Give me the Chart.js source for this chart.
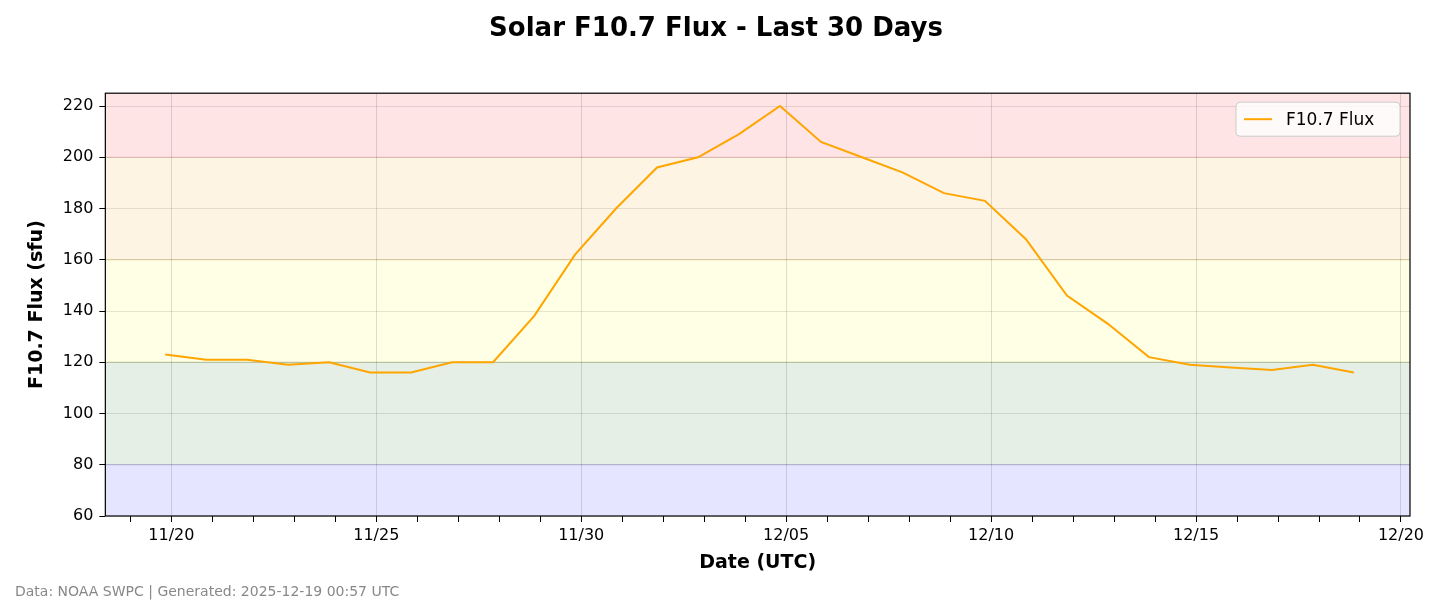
<!DOCTYPE html>
<html><head><meta charset="utf-8">
<script src="https://cdn.jsdelivr.net/npm/chart.js@4"></script>
<style>html,body{margin:0;padding:0;background:#fff}#w{width:1440px;height:616px;position:relative}</style>
</head><body><div id="w"><canvas id="c" width="1440" height="616"></canvas></div>
<script>
const startDate = Date.UTC(2025,10,20);
const dayOffsets = [-0.15,0.85,1.85,2.85,3.85,4.85,5.85,6.85,7.85,8.85,9.85,10.85,11.85,12.85,13.85,14.85,15.85,16.85,17.85,18.85,19.85,20.85,21.85,22.85,23.85,24.85,25.85,26.85,27.85,28.85];
const fluxValues = [123,121,121,119,120,116,116,120,120,138,162,180,196,200,209,220,206,200,194,186,183,168,146,135,122,119,118,117,119,116];
const bands = [[60,80,'#e5e5ff'],[80,120,'#e5efe5'],[120,160,'#ffffe5'],[160,200,'#fdf4e3'],[200,225,'#ffe4e6']];
const bandLines = [[80,'#b8b8e0'],[120,'#c0cca0'],[160,'#ecd8a8'],[200,'#f0c0b8']];
const fmt = v => { const d=new Date(startDate+v*86400000); return String(d.getUTCMonth()+1).padStart(2,'0')+'/'+String(d.getUTCDate()).padStart(2,'0'); };

const bg = {id:'bg', beforeDraw(ch){const {ctx,chartArea:a,scales:{y}}=ch;ctx.save();
  for(const [lo,hi,c] of bands){ctx.fillStyle=c;const t=y.getPixelForValue(hi),b=y.getPixelForValue(lo);ctx.fillRect(a.left,t,a.right-a.left,b-t);}
  for(const [v,c] of bandLines){const p=y.getPixelForValue(v);ctx.strokeStyle=c;ctx.lineWidth=1.2;ctx.beginPath();ctx.moveTo(a.left,p);ctx.lineTo(a.right,p);ctx.stroke();}
  ctx.restore();},
 afterDraw(ch){const {ctx,chartArea:a}=ch;ctx.save();
  ctx.strokeStyle='#000';ctx.lineWidth=1.2;ctx.strokeRect(a.left,a.top,a.right-a.left,a.bottom-a.top);
  const lx=a.right-174,ly=a.top+9,w=164,h=34;ctx.fillStyle='rgba(255,255,255,0.8)';ctx.strokeStyle='#ccc';ctx.lineWidth=1;
  ctx.beginPath();ctx.roundRect(lx,ly,w,h,4);ctx.fill();ctx.stroke();
  ctx.strokeStyle='orange';ctx.lineWidth=2;ctx.beginPath();ctx.moveTo(lx+8,ly+17);ctx.lineTo(lx+36,ly+17);ctx.stroke();
  ctx.fillStyle='#000';ctx.font='17px "DejaVu Sans"';ctx.textBaseline='middle';ctx.fillText('F10.7 Flux',lx+50,ly+18);
  ctx.fillStyle='#888';ctx.font='14px "DejaVu Sans"';ctx.fillText('Data: NOAA SWPC | Generated: 2025-12-19 00:57 UTC',15,592);
  ctx.restore();}};

new Chart(document.getElementById('c'),{type:'line',
 data:{datasets:[{label:'F10.7 Flux',data:dayOffsets.map((x,i)=>({x,y:fluxValues[i]})),borderColor:'orange',borderWidth:2,pointRadius:0,tension:0}]},
 options:{responsive:false,animation:false,
  layout:{padding:{left:22,right:30,top:0,bottom:38}},
  plugins:{legend:{display:false},tooltip:{enabled:false},
   title:{display:true,text:'Solar F10.7 Flux - Last 30 Days',color:'#000',font:{family:'DejaVu Sans',size:26,weight:'bold'},padding:{top:14,bottom:48}}},
  scales:{
   x:{type:'linear',min:-1.61,max:30.22,afterBuildTicks(ax){ax.ticks=[];for(let i=-1;i<=30;i++)ax.ticks.push({value:i});},
    ticks:{autoSkip:false,maxRotation:0,color:'#000',font:{family:'DejaVu Sans',size:16},padding:4,callback:v=>v%5===0?fmt(v):''},
    grid:{color:c=>c.tick&&c.tick.value%5===0?'rgba(0,0,0,0.13)':'rgba(0,0,0,0)',tickColor:'#000',tickLength:6,drawOnChartArea:true},border:{display:false},
    title:{display:true,text:'Date (UTC)',color:'#000',font:{family:'DejaVu Sans',size:19,weight:'bold'},padding:{top:2}}},
   y:{min:60,max:225,afterBuildTicks(ax){ax.ticks=[];for(let v=60;v<=220;v+=20)ax.ticks.push({value:v});},
    ticks:{color:'#000',font:{family:'DejaVu Sans',size:16},padding:6},
    grid:{color:'rgba(0,0,0,0.1)',tickColor:'#000',tickLength:6},border:{display:false},
    title:{display:true,text:'F10.7 Flux (sfu)',color:'#000',font:{family:'DejaVu Sans',size:19,weight:'bold'},padding:{bottom:8}}}}},
 plugins:[bg]});
</script></body></html>
